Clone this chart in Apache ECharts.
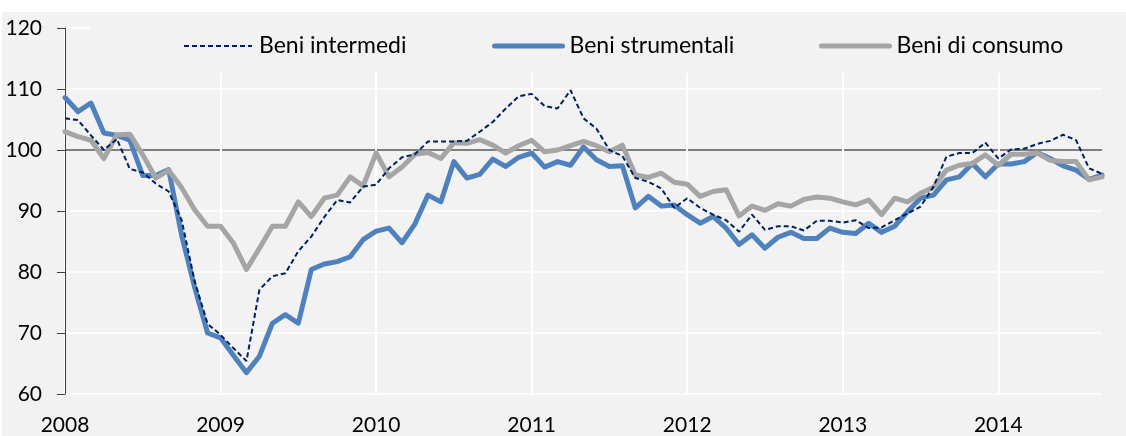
<!DOCTYPE html>
<html lang="it">
<head>
    <meta charset="UTF-8"/>
    <title>produzione industriale</title>
    <script src="https://cdn.jsdelivr.net/npm/echarts@6/dist/echarts.min.js"></script>
    <style>
        body { margin: 0; background: #fff; }
        #wrap { position: relative; width: 1126px; height: 436px; background: #fff; }
        #main { position: absolute; left: 2px; top: 12px; width: 1124px; height: 424px; background: #f2f2f2; }
    </style>
</head>
<body>
<div id="wrap"><div id="main"></div></div>

<script type="text/javascript">
    // etichette degli anni (una ogni 12 mesi, gen 2008 - set 2014)
    var years = ['2008', '2009', '2010', '2011', '2012', '2013', '2014'];
    var nMonths = 81;

    // indici
    var beniIntermedi = [
        105.2, 104.9, 102.4, 100.0, 101.8, 96.9, 96.3, 94.5, 93.2, 88.5, 78.5, 71.5,
        69.7, 67.5, 65.4, 77.1, 79.3, 79.8, 83.4, 85.8, 89.0, 91.8, 91.4, 94.0,
        94.3, 97.0, 98.8, 99.3, 101.4, 101.4, 101.4, 101.5, 103.0, 104.6, 106.8, 108.8,
        109.2, 107.2, 106.8, 109.8, 105.2, 103.5, 100.0, 99.0, 95.4, 94.8, 93.7, 90.5,
        92.1, 90.5, 89.4, 88.5, 86.6, 89.4, 86.9, 87.5, 87.5, 86.8, 88.4, 88.4,
        88.1, 88.5, 87.2, 87.3, 88.5, 89.6, 90.7, 94.0, 98.9, 99.5, 99.5, 101.2,
        98.6, 100.1, 100.2, 101.0, 101.5, 102.5, 101.6, 97.0, 96.1
    ];
    var beniStrumentali = [
        108.6, 106.3, 107.7, 102.8, 102.4, 101.6, 95.8, 95.8, 96.8, 86.0, 77.5, 70.0,
        69.2, 66.3, 63.5, 66.2, 71.6, 73.0, 71.6, 80.4, 81.3, 81.7, 82.5, 85.3,
        86.7, 87.2, 84.8, 87.9, 92.6, 91.5, 98.1, 95.4, 96.0, 98.5, 97.3, 98.8,
        99.5, 97.2, 98.1, 97.5, 100.5, 98.4, 97.3, 97.4, 90.5, 92.4, 90.8, 91.0,
        89.4, 88.0, 89.1, 87.2, 84.5, 86.1, 83.9, 85.7, 86.5, 85.5, 85.5, 87.2,
        86.5, 86.3, 88.0, 86.5, 87.5, 89.9, 92.1, 92.6, 95.1, 95.6, 97.8, 95.6,
        97.7, 97.7, 98.1, 99.6, 98.6, 97.4, 96.7, 95.2, 95.9
    ];
    var beniConsumo = [
        103.0, 102.2, 101.6, 98.6, 102.5, 102.6, 99.2, 95.4, 96.7, 93.8, 90.2, 87.5,
        87.5, 84.7, 80.4, 83.9, 87.5, 87.5, 91.5, 89.1, 92.1, 92.6, 95.6, 94.1,
        99.5, 95.6, 97.2, 99.3, 99.6, 98.6, 101.2, 101.1, 101.7, 100.8, 99.5, 100.7,
        101.6, 99.7, 100.0, 100.7, 101.4, 100.7, 99.7, 100.8, 95.9, 95.5, 96.2, 94.7,
        94.4, 92.4, 93.2, 93.5, 89.2, 90.8, 90.1, 91.2, 90.8, 91.9, 92.3, 92.1,
        91.5, 91.0, 91.8, 89.4, 92.1, 91.5, 92.9, 93.9, 96.7, 97.5, 97.8, 99.2,
        97.5, 99.3, 99.3, 99.5, 98.3, 98.1, 98.1, 95.1, 95.6
    ];

    var months = [];
    for (var i = 0; i < nMonths; i++) {
        months.push(years[Math.floor(i / 12)] + '-' + (i % 12 + 1));
    }

    var font = 'Lato, "Liberation Sans", sans-serif';
    var txt = { color: '#000', fontSize: 23, fontFamily: font, lineHeight: 24, padding: [0, 0, 0, 2] };

    function legendAt(x, name, line) {
        return {
            left: x, top: 22, padding: 0,
            itemWidth: 68, itemHeight: 14,
            data: [name],
            textStyle: txt,
            itemStyle: { opacity: 0 },
            lineStyle: line,
            selectedMode: false
        };
    }

    var myChart = echarts.init(document.getElementById('main'));
    var option = {
        animation: false,
        textStyle: { fontFamily: font },
        grid: { left: 63, top: 16, right: 24, bottom: 42 },
        // riquadro della legenda che copre la griglia in alto
        graphic: [{
            type: 'rect', z: 3, left: 88, top: 0,
            shape: { width: 1030, height: 61 },
            style: { fill: '#f2f2f2' }
        }],
        legend: [
            legendAt(181, 'Beni intermedi', { color: '#002060', width: 2, type: [5, 3] }),
            legendAt(490, 'Beni strumentali', { color: '#4f81bd', width: 5, cap: 'round' }),
            legendAt(817, 'Beni di consumo', { color: '#a5a5a5', width: 5, cap: 'round' })
        ],
        xAxis: {
            type: 'category',
            data: months,
            boundaryGap: false,
            axisLine: { show: false },
            axisTick: { show: false },
            axisLabel: {
                interval: 11, margin: 21,
                color: '#000', fontSize: 21, fontFamily: font,
                formatter: function (v) { return v.slice(-2) === '-1' ? v.slice(0, 4) : ''; }
            },
            splitLine: { show: true, interval: 11, lineStyle: { color: '#fff', width: 2 } }
        },
        yAxis: {
            type: 'value',
            min: 60, max: 120, interval: 10,
            axisLine: { show: true, lineStyle: { color: '#404040', width: 1 } },
            axisTick: { show: true, length: 8, lineStyle: { color: '#404040' } },
            axisLabel: { margin: 23, color: '#000', fontSize: 21, fontFamily: font },
            splitLine: {
                lineStyle: {
                    color: ['#fff', '#fff', '#fff', '#fff', '#595959', '#fff', '#fff'],
                    width: 1.6
                }
            }
        },
        series: [
            {
                name: 'Beni strumentali', type: 'line', data: beniStrumentali,
                symbol: 'none', lineStyle: { color: '#4f81bd', width: 5, cap: 'round', join: 'round' },
                itemStyle: { color: '#4f81bd' }
            },
            {
                name: 'Beni di consumo', type: 'line', data: beniConsumo,
                symbol: 'none', lineStyle: { color: '#a5a5a5', width: 5, cap: 'round', join: 'round' },
                itemStyle: { color: '#a5a5a5' }
            },
            {
                name: 'Beni intermedi', type: 'line', data: beniIntermedi,
                symbol: 'none', lineStyle: { color: '#002060', width: 2, type: [5, 3] },
                itemStyle: { color: '#002060' }
            }
        ]
    };
    myChart.setOption(option);
</script>
</body>
</html>
